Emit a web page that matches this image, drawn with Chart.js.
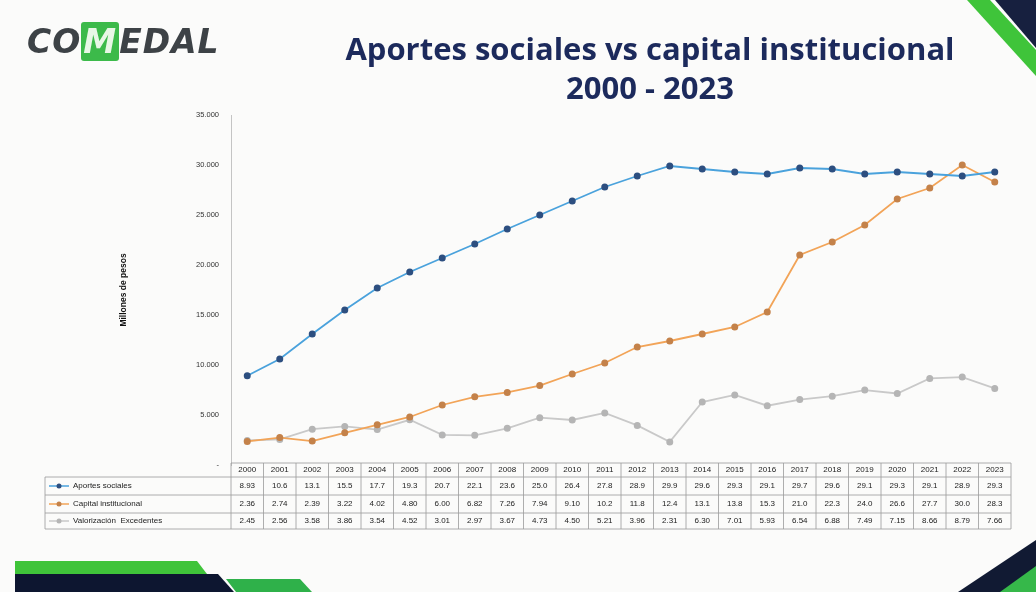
<!DOCTYPE html>
<html>
<head>
<meta charset="utf-8">
<script src="https://cdn.jsdelivr.net/npm/chart.js@4.4.0/dist/chart.umd.min.js"></script>
<style>
  html, body { margin: 0; padding: 0; background: #fbfbfa; }
  #wrap { position: relative; width: 1036px; height: 592px; overflow: hidden; }
  #chart { position: absolute; left: 0; top: 0; }
  .deco { position: absolute; }
  #logo { position: absolute; left: 27px; top: 22px; font-family: "DejaVu Sans", sans-serif; font-weight: bold;
          font-size: 33px; color: #3d4246; letter-spacing: 1px; font-style: italic; }
  #logo .m { display: inline-block; background: #3cba4a; color: #e8f7e6; padding: 0 2px; border-radius: 3px; }
  #title { position: absolute; left: 250px; width: 800px; top: 29px; text-align: center;
           font-family: "Open Sans", sans-serif; font-weight: bold; font-size: 31px; line-height: 39px; color: #1c2a5c; }
</style>
</head>
<body>
<div id="wrap">
  <canvas id="chart" width="1036" height="592"></canvas>
  <div id="logo">CO<span class="m">M</span>EDAL</div>
  <div id="title">Aportes sociales vs capital institucional<br>2000 - 2023</div>
  <!-- corner decorations -->
  <div class="deco" style="left:0;top:0;width:1036px;height:592px;background:#17203f;clip-path:polygon(995px 0,1036px 0,1036px 48px);"></div>
  <div class="deco" style="left:0;top:0;width:1036px;height:592px;background:#3fc43a;clip-path:polygon(967px 0,990px 0,1036px 50px,1036px 76px);"></div>
  <div class="deco" style="left:0;top:0;width:1036px;height:592px;background:#111a33;clip-path:polygon(958px 592px,1036px 540px,1036px 592px);"></div>
  <div class="deco" style="left:0;top:0;width:1036px;height:592px;background:#36b84a;clip-path:polygon(1000px 592px,1036px 566px,1036px 592px);"></div>
  <div class="deco" style="left:0;top:0;width:1036px;height:592px;background:#3fc43a;clip-path:polygon(15px 561px,197px 561px,207px 574px,15px 574px);"></div>
  <div class="deco" style="left:0;top:0;width:1036px;height:592px;background:#0d1630;clip-path:polygon(15px 574px,218px 574px,234px 592px,15px 592px);"></div>
  <div class="deco" style="left:0;top:0;width:1036px;height:592px;background:#2fb14a;clip-path:polygon(226px 579px,300px 579px,312px 592px,236px 592px);"></div>
</div>
<script>
// Years and series (millones de pesos)
const years = ["2000","2001","2002","2003","2004","2005","2006","2007","2008","2009","2010","2011",
               "2012","2013","2014","2015","2016","2017","2018","2019","2020","2021","2022","2023"];
const aportesSociales = [8930, 10600, 13100, 15500, 17700, 19300, 20700, 22100, 23600, 25000, 26400, 27800,
                         28900, 29900, 29600, 29300, 29100, 29700, 29600, 29100, 29300, 29100, 28900, 29300];
const capitalInstitucional = [2360, 2740, 2390, 3220, 4020, 4800, 6000, 6820, 7260, 7940, 9100, 10200,
                              11800, 12400, 13100, 13800, 15300, 21000, 22300, 24000, 26600, 27700, 30000, 28300];
const valorizacion = [2450, 2560, 3580, 3860, 3540, 4520, 3010, 2970, 3670, 4730, 4500, 5210,
                      3960, 2310, 6300, 7010, 5930, 6540, 6880, 7490, 7150, 8660, 8790, 7660];
const yTicks = [0, 5000, 10000, 15000, 20000, 25000, 30000, 35000];

function fmtTick(v) {
    if (v === 0) return "-";
    return v.toLocaleString("es-CO").replace(/,/g, ".");
}
function fmtCell(v) {
    return (v / 1000).toPrecision(3);
}

// Data table under the plot, lined up with the x scale
const dataTable = {
    id: "dataTable",
    afterDraw(chart) {
        const ctx = chart.ctx;
        const x = chart.scales.x;
        const area = chart.chartArea;
        const colW = x.width / years.length;
        const legendLeft = 45;
        const top = area.bottom - 2;
        const rowH = [14, 18, 18, 16];
        const rowsY = [top];
        rowH.forEach(h => rowsY.push(rowsY[rowsY.length - 1] + h));

        ctx.save();
        ctx.strokeStyle = "#9a9a9a";
        ctx.lineWidth = 0.8;
        // horizontal lines
        ctx.beginPath();
        ctx.moveTo(area.left, rowsY[0]); ctx.lineTo(area.right, rowsY[0]);
        for (let r = 1; r < rowsY.length; r++) {
            ctx.moveTo(legendLeft, rowsY[r]); ctx.lineTo(area.right, rowsY[r]);
        }
        // vertical lines
        ctx.moveTo(legendLeft, rowsY[1]); ctx.lineTo(legendLeft, rowsY[4]);
        for (let i = 0; i <= years.length; i++) {
            const px = area.left + i * colW;
            ctx.moveTo(px, rowsY[0]); ctx.lineTo(px, rowsY[4]);
        }
        ctx.stroke();

        ctx.fillStyle = "#222";
        ctx.font = "8px 'Liberation Sans', Arial, sans-serif";
        ctx.textAlign = "center";
        ctx.textBaseline = "middle";
        years.forEach((y, i) => {
            ctx.fillText(y, x.getPixelForValue(i), (rowsY[0] + rowsY[1]) / 2);
        });
        chart.data.datasets.forEach((ds, d) => {
            const cy = (rowsY[d + 1] + rowsY[d + 2]) / 2;
            ds.data.forEach((v, i) => {
                ctx.fillStyle = "#222";
                ctx.fillText(fmtCell(v), x.getPixelForValue(i), cy);
            });
            // legend key
            ctx.strokeStyle = ds.borderColor;
            ctx.lineWidth = 1.5;
            ctx.beginPath();
            ctx.moveTo(legendLeft + 4, cy); ctx.lineTo(legendLeft + 24, cy);
            ctx.stroke();
            ctx.fillStyle = ds.pointBackgroundColor;
            ctx.beginPath();
            ctx.arc(legendLeft + 14, cy, 2.5, 0, Math.PI * 2);
            ctx.fill();
            ctx.fillStyle = "#222";
            ctx.textAlign = "left";
            ctx.fillText(ds.label, legendLeft + 28, cy);
            ctx.textAlign = "center";
        });
        ctx.restore();
    }
};

new Chart(document.getElementById("chart").getContext("2d"), {
    type: "line",
    data: {
        labels: years,
        datasets: [{
            label: "Aportes sociales",
            data: aportesSociales,
            borderColor: "#4aa2dc",
            backgroundColor: "#2d4f80",
            pointBackgroundColor: "#2d4f80",
            pointBorderColor: "#2d4f80",
            borderWidth: 1.8,
            pointRadius: 2.6
        }, {
            label: "Capital institucional",
            data: capitalInstitucional,
            borderColor: "#f2a458",
            backgroundColor: "#c4824a",
            pointBackgroundColor: "#c4824a",
            pointBorderColor: "#c4824a",
            borderWidth: 1.8,
            pointRadius: 2.6
        }, {
            label: "Valorización  Excedentes",
            data: valorizacion,
            borderColor: "#c9c9c9",
            backgroundColor: "#b5b5b5",
            pointBackgroundColor: "#b5b5b5",
            pointBorderColor: "#b5b5b5",
            borderWidth: 1.8,
            pointRadius: 2.6
        }]
    },
    options: {
        responsive: false,
        animation: false,
        layout: { padding: { left: 115, right: 25, top: 115, bottom: 127 } },
        plugins: { legend: { display: false }, tooltip: { enabled: false } },
        scales: {
            x: { display: false, offset: true },
            y: {
                min: 0,
                max: 35000,
                afterFit(scale) { scale.width = 116; },
                afterBuildTicks(scale) { scale.ticks = yTicks.map(v => ({ value: v })); },
                grid: { display: false, drawTicks: false },
                border: { display: true, color: "#c4c4c4", width: 1 },
                ticks: {
                    padding: 12,
                    color: "#333",
                    font: { size: 7.5, family: "'Liberation Sans', Arial, sans-serif" },
                    callback: v => fmtTick(v)
                },
                title: {
                    display: true,
                    text: "Millones de pesos",
                    color: "#111",
                    font: { size: 8.5, weight: "bold", family: "'Liberation Sans', Arial, sans-serif" }
                }
            }
        }
    },
    plugins: [dataTable]
});
</script>
</body>
</html>
